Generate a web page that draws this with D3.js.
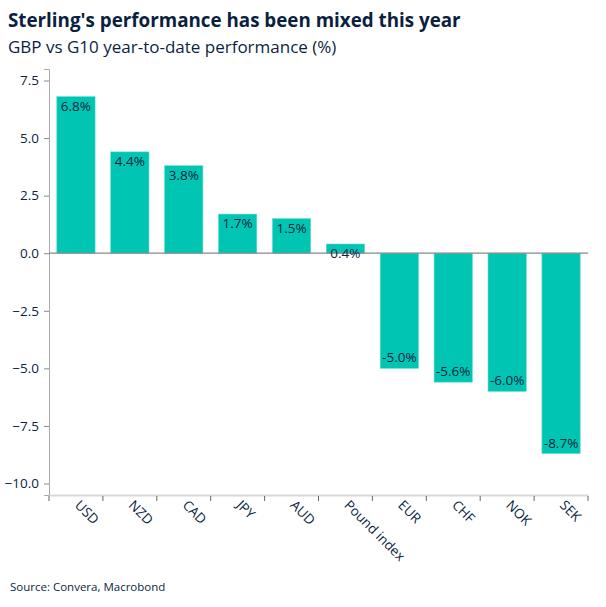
<!DOCTYPE html>
<html>
<head>
<meta charset="utf-8">
<script src="https://cdn.jsdelivr.net/npm/d3@7"></script>
<style>
  body { margin: 0; background: #fff; }
  svg { font-family: "Open Sans", "Noto Sans", sans-serif; }
</style>
</head>
<body>
<div id="chart"></div>
<script>
// GBP vs G10 year-to-date performance
var currencies = ['USD', 'NZD', 'CAD', 'JPY', 'AUD', 'Pound index', 'EUR', 'CHF', 'NOK', 'SEK'];
var perf = [6.8, 4.4, 3.8, 1.7, 1.5, 0.4, -5.0, -5.6, -6.0, -8.7];
var yTicks = [7.5, 5.0, 2.5, 0.0, -2.5, -5.0, -7.5, -10.0];

var width = 606,
    height = 607,
    navy = '#0b1f3f',
    teal = '#00c5b3';

var svg = d3.select('#chart').append('svg')
    .attr('width', width)
    .attr('height', height);

var x = d3.scaleBand()
    .domain(currencies)
    .range([49, 588])
    .paddingInner(0.29)
    .paddingOuter(0.145);

var y = d3.scaleLinear()
    .domain([-10.5, 8])
    .range([495, 69]);

// titles
svg.append('text')
    .attr('x', 8).attr('y', 27)
    .attr('fill', navy)
    .style('font-size', '18.8px')
    .style('font-weight', 'bold')
    .text("Sterling's performance has been mixed this year");

svg.append('text')
    .attr('x', 8).attr('y', 53)
    .attr('fill', navy)
    .style('font-size', '17px')
    .text('GBP vs G10 year-to-date performance (%)');

// y axis
var yAxis = svg.append('g')
    .attr('transform', 'translate(49,0)')
    .call(d3.axisLeft(y).tickValues(yTicks).tickFormat(d3.format('.1f')).tickSize(5).tickPadding(5));
yAxis.select('.domain').attr('stroke', '#aaa');
yAxis.selectAll('.tick line').attr('stroke', '#888');
yAxis.selectAll('.tick text')
    .attr('fill', navy)
    .style('font-size', '13.5px')
    .style('font-family', '"Open Sans", sans-serif');

// x axis
var xAxis = svg.append('g')
    .attr('transform', 'translate(0,495)')
    .call(d3.axisBottom(x).tickSize(0).tickPadding(0));
xAxis.select('.domain').attr('stroke', '#d9d9d9').attr('stroke-width', 2);
xAxis.selectAll('.tick text').remove();

// tick marks sit on the band boundaries, not centres
svg.append('g')
    .selectAll('line')
    .data(currencies.concat([null]))
    .join('line')
    .attr('x1', function (d, i) { return x.range()[0] + i * x.step(); })
    .attr('x2', function (d, i) { return x.range()[0] + i * x.step(); })
    .attr('y1', 496)
    .attr('y2', 501)
    .attr('stroke', '#666');

svg.append('g')
    .selectAll('text')
    .data(currencies)
    .join('text')
    .attr('transform', function (d) {
        return 'translate(' + (x(d) + x.bandwidth() / 2 - 2) + ',506) rotate(45)';
    })
    .attr('fill', navy)
    .style('font-size', '13.5px')
    .text(function (d) { return d; });

// bars
svg.append('g')
    .selectAll('rect')
    .data(perf)
    .join('rect')
    .attr('x', function (d, i) { return x(currencies[i]); })
    .attr('width', x.bandwidth())
    .attr('y', function (d) { return y(Math.max(0, d)); })
    .attr('height', function (d) { return Math.abs(y(d) - y(0)); })
    .attr('fill', teal)
    .attr('stroke', '#5fdccf')
    .attr('stroke-width', 0.6);

// zero line
svg.append('line')
    .attr('x1', 49).attr('x2', 588)
    .attr('y1', y(0)).attr('y2', y(0))
    .attr('stroke', '#888')
    .attr('stroke-width', 1.2);

// value labels
svg.append('g')
    .selectAll('text')
    .data(perf)
    .join('text')
    .attr('x', function (d, i) { return x(currencies[i]) + x.bandwidth() / 2; })
    .attr('y', function (d) { return d >= 0 ? y(d) + 14 : y(d) - 6; })
    .attr('text-anchor', 'middle')
    .attr('fill', navy)
    .style('font-size', '13.5px')
    .text(function (d) { return d.toFixed(1) + '%'; });

// source
svg.append('text')
    .attr('x', 10).attr('y', 591)
    .attr('fill', navy)
    .style('font-size', '11.5px')
    .text('Source: Convera, Macrobond');
</script>
</body>
</html>
